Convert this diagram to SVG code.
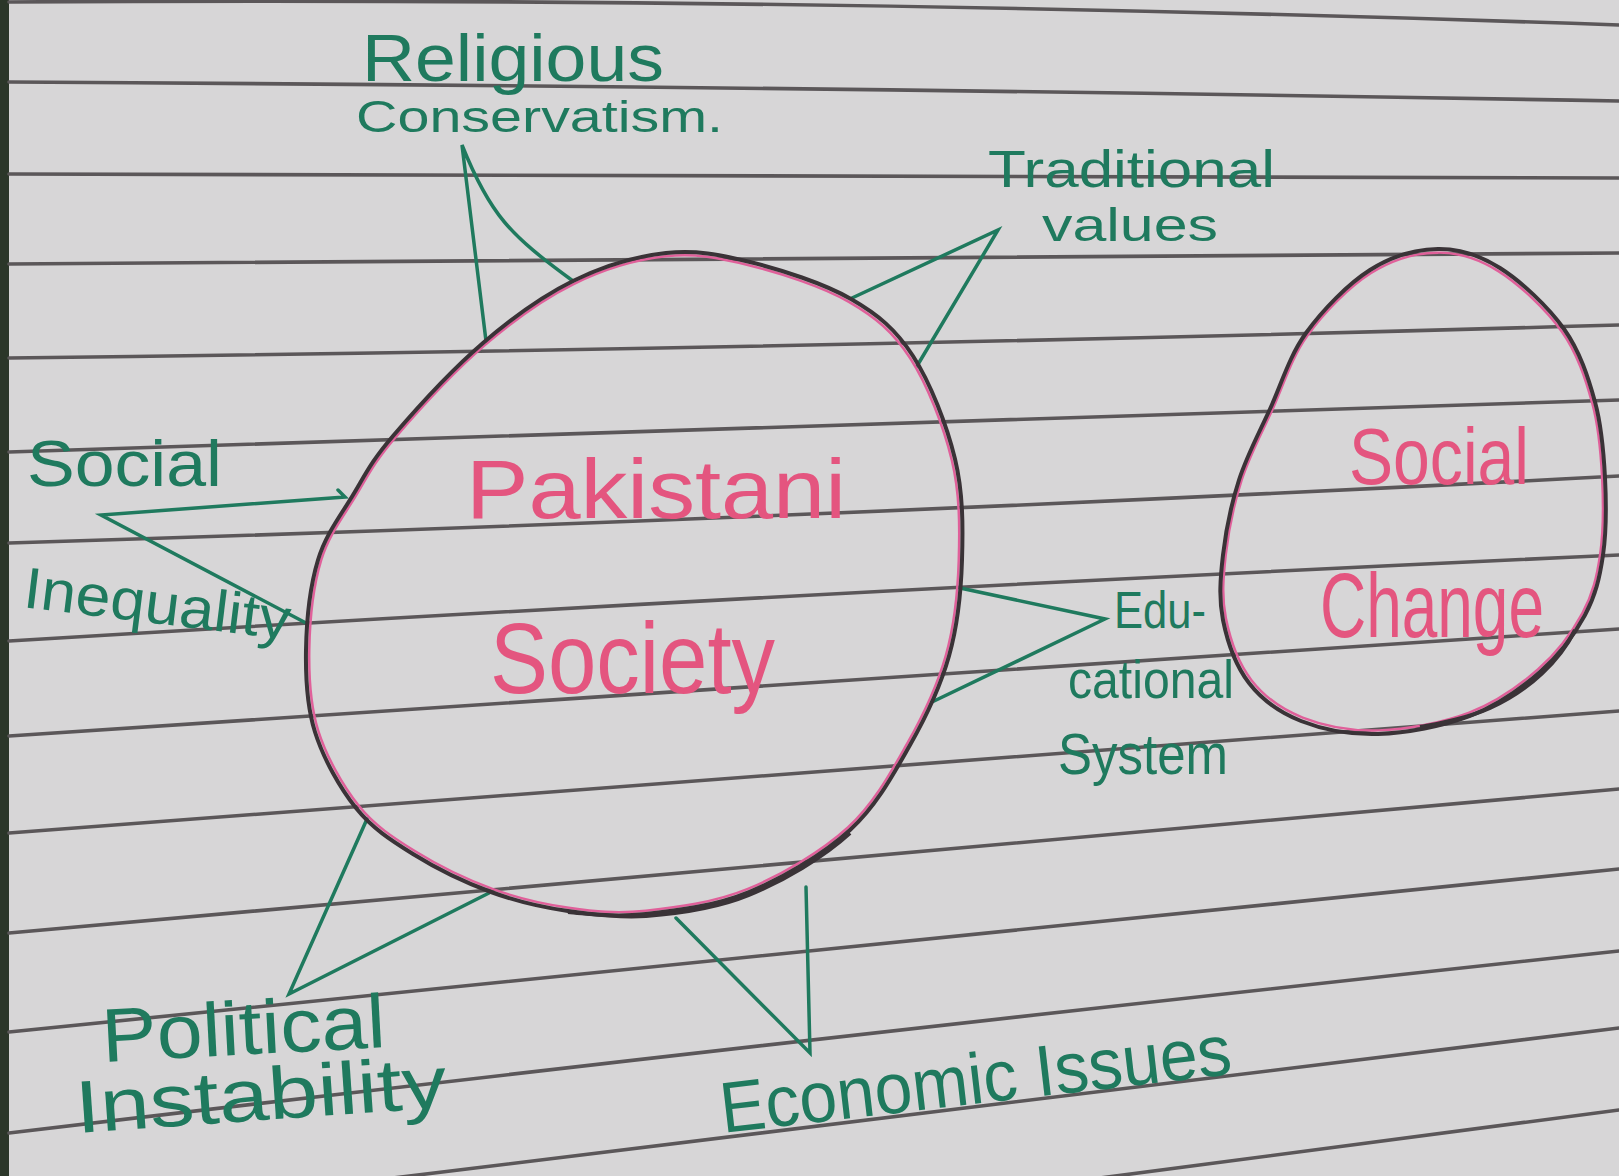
<svg xmlns="http://www.w3.org/2000/svg" width="1619" height="1176" viewBox="0 0 1619 1176">
  <defs>
    <style>
      .rule { fill: none; stroke: #5b5759; stroke-width: 3.6; stroke-linecap: round; }
      .outline { fill: none; stroke: #3a3337; stroke-width: 4; stroke-linejoin: round; }
      .tint { fill: none; stroke: #e0609a; stroke-width: 2.5; }
      .spike { fill: none; stroke: #1f7a5e; stroke-width: 3.5; stroke-linejoin: miter; stroke-linecap: round; }
      .pink { font-family: "Liberation Sans", "DejaVu Sans", sans-serif; fill: #e4557f; }
      .green { font-family: "Liberation Sans", "DejaVu Sans", sans-serif; fill: #1f7a5e; }
    </style>
  </defs>

  <!-- paper -->
  <rect x="0" y="0" width="1619" height="1176" fill="#d7d6d7"/>
  <rect x="0" y="0" width="9" height="1176" fill="#2b3629"/>
  <g id="ruling">
    <path class="rule" d="M9,2 Q810.5,-3.5 1619,25"/>
    <path class="rule" d="M9,82 Q810,86.5 1619,101"/>
    <path class="rule" d="M9,174 Q810,174 1619,178"/>
    <path class="rule" d="M9,264 Q810,259.5 1619,253"/>
    <path class="rule" d="M9,358 Q810,348.5 1619,325"/>
    <path class="rule" d="M9,452 Q810,428 1619,400"/>
    <path class="rule" d="M9,543 Q810,518.5 1619,476"/>
    <path class="rule" d="M9,641 Q810,592 1619,555"/>
    <path class="rule" d="M9,736 Q810,685.5 1619,629"/>
    <path class="rule" d="M9,833 Q810,772 1619,711"/>
    <path class="rule" d="M9,933 Q810,859 1619,789"/>
    <path class="rule" d="M9,1032 Q810,949.5 1619,869"/>
    <path class="rule" d="M9,1133 Q810,1038 1619,951"/>
    <path class="rule" d="M9,1225 Q810,1127.5 1619,1028"/>
    <path class="rule" d="M1100,1178 L1619,1110"/>
  </g>

  <!-- connectors (spikes) -->
  <g id="connectors">
    <path id="c-religious" class="spike" d="M486,341 L462,145 C490,215 510,235 573,281"/>
    <path id="c-traditional" class="spike" d="M852,298 L998,230 L917,366"/>
    <path id="c-inequality" class="spike" d="M338,490 L345,497 L101,515 L306,623"/>
    <path id="c-educational" class="spike" d="M960,588 L1105,619 L932,702"/>
    <path id="c-economic" class="spike" d="M676,918 L810,1053 L806,887"/>
    <path id="c-political" class="spike" d="M367,819 L289,994 L489,893"/>
  </g>

  <!-- Pakistani Society -->
  <g id="pakistani-society">
    <path class="tint" transform="translate(636 583) scale(0.99) translate(-636 -583)" d="M666,253 C695.5,249.8 719.2,254.3 750,262 C780.8,269.7 823.8,283.3 851,299 C878.2,314.7 895.7,329.3 913,356 C930.3,382.7 946.8,425 955,459 C963.2,493 963,527.2 962,560 C961,592.8 957.7,625.2 949,656 C940.3,686.8 926.5,716 910,745 C893.5,774 876.8,805.5 850,830 C823.2,854.5 783,878 749,892 C715,906 676.2,910.8 646,914 C615.8,917.2 593.8,914.7 568,911 C542.2,907.3 516.8,901.5 491,892 C465.2,882.5 435.5,868 413,854 C390.5,840 372.3,828.3 356,808 C339.7,787.7 323.3,758.3 315,732 C306.7,705.7 305.5,678.7 306,650 C306.5,621.3 310.2,585.8 318,560 C325.8,534.2 340.5,515.7 353,495 C365.5,474.3 371.3,461.3 393,436 C414.7,410.7 453,368.8 483,343 C513,317.2 542.5,296 573,281 C603.5,266 636.5,256.2 666,253 Z"/>
    <path class="outline" d="M666,253 C695.5,249.8 719.2,254.3 750,262 C780.8,269.7 823.8,283.3 851,299 C878.2,314.7 895.7,329.3 913,356 C930.3,382.7 946.8,425 955,459 C963.2,493 963,527.2 962,560 C961,592.8 957.7,625.2 949,656 C940.3,686.8 926.5,716 910,745 C893.5,774 876.8,805.5 850,830 C823.2,854.5 783,878 749,892 C715,906 676.2,910.8 646,914 C615.8,917.2 593.8,914.7 568,911 C542.2,907.3 516.8,901.5 491,892 C465.2,882.5 435.5,868 413,854 C390.5,840 372.3,828.3 356,808 C339.7,787.7 323.3,758.3 315,732 C306.7,705.7 305.5,678.7 306,650 C306.5,621.3 310.2,585.8 318,560 C325.8,534.2 340.5,515.7 353,495 C365.5,474.3 371.3,461.3 393,436 C414.7,410.7 453,368.8 483,343 C513,317.2 542.5,296 573,281 C603.5,266 636.5,256.2 666,253 Z"/>
    <path class="outline" stroke-width="6" d="M850,833 C823.2,857.5 783,881 749,895 C715,909 676.2,913.8 646,916 C615.8,918 590,914 568,912"/>
    <text class="pink" x="466" y="518" font-size="84" textLength="380" lengthAdjust="spacingAndGlyphs">Pakistani</text>
    <text class="pink" x="490" y="693" font-size="100" textLength="285" lengthAdjust="spacingAndGlyphs">Society</text>
  </g>

  <!-- Social Change -->
  <g id="social-change">
    <path class="tint" transform="translate(1414 492) scale(0.985) translate(-1414 -492)" d="M1438,249 C1459.7,248.7 1479,254.7 1500,268 C1521,281.3 1548.2,306.7 1564,329 C1579.8,351.3 1588.2,377.2 1595,402 C1601.8,426.8 1603.7,452.5 1605,478 C1606.3,503.5 1606.3,532.2 1603,555 C1599.7,577.8 1595.5,595.5 1585,615 C1574.5,634.5 1559.2,655.2 1540,672 C1520.8,688.8 1497,705.7 1470,716 C1443,726.3 1406.2,733.2 1378,734 C1349.8,734.8 1322.5,729.5 1301,721 C1279.5,712.5 1262,699.8 1249,683 C1236,666.2 1227.3,641.3 1223,620 C1218.7,598.7 1220.3,578.3 1223,555 C1225.7,531.7 1231.2,504.3 1239,480 C1246.8,455.7 1258.8,433.5 1270,409 C1281.2,384.5 1289.3,356.2 1306,333 C1322.7,309.8 1348,284 1370,270 C1392,256 1416.3,249.3 1438,249 Z"/>
    <path class="outline" d="M1438,249 C1459.7,248.7 1479,254.7 1500,268 C1521,281.3 1548.2,306.7 1564,329 C1579.8,351.3 1588.2,377.2 1595,402 C1601.8,426.8 1603.7,452.5 1605,478 C1606.3,503.5 1606.3,532.2 1603,555 C1599.7,577.8 1595.5,595.5 1585,615 C1574.5,634.5 1559.2,655.2 1540,672 C1520.8,688.8 1497,705.7 1470,716 C1443,726.3 1406.2,733.2 1378,734 C1349.8,734.8 1322.5,729.5 1301,721 C1279.5,712.5 1262,699.8 1249,683 C1236,666.2 1227.3,641.3 1223,620 C1218.7,598.7 1220.3,578.3 1223,555 C1225.7,531.7 1231.2,504.3 1239,480 C1246.8,455.7 1258.8,433.5 1270,409 C1281.2,384.5 1289.3,356.2 1306,333 C1322.7,309.8 1348,284 1370,270 C1392,256 1416.3,249.3 1438,249 Z"/>
    <path class="outline" stroke-width="7" d="M1575,630 C1560,660 1530,690 1490,708 C1470,717 1440,724 1420,727"/>
    <text class="pink" x="1349" y="484" font-size="80" textLength="180" lengthAdjust="spacingAndGlyphs">Social</text>
    <text class="pink" x="1320" y="637" font-size="90" textLength="224" lengthAdjust="spacingAndGlyphs">Change</text>
  </g>

  <!-- factor labels -->
  <g id="religious-conservatism">
    <text class="green" x="362" y="81" font-size="66" textLength="302" lengthAdjust="spacingAndGlyphs">Religious</text>
    <text class="green" x="356" y="132" font-size="44" textLength="367" lengthAdjust="spacingAndGlyphs">Conservatism.</text>
  </g>
  <g id="traditional-values">
    <text class="green" x="988" y="187" font-size="52" textLength="287" lengthAdjust="spacingAndGlyphs">Traditional</text>
    <text class="green" x="1042" y="241" font-size="46" textLength="176" lengthAdjust="spacingAndGlyphs">values</text>
  </g>
  <g id="social-inequality">
    <text class="green" x="27" y="486" font-size="64" textLength="195" lengthAdjust="spacingAndGlyphs">Social</text>
    <text class="green" x="22" y="607" font-size="58" transform="rotate(7 22 607)" textLength="268" lengthAdjust="spacingAndGlyphs">Inequality</text>
  </g>
  <g id="educational-system">
    <text class="green" x="1114" y="628" font-size="52" textLength="92" lengthAdjust="spacingAndGlyphs">Edu-</text>
    <text class="green" x="1068" y="698" font-size="54" textLength="166" lengthAdjust="spacingAndGlyphs">cational</text>
    <text class="green" x="1058" y="774" font-size="58" textLength="170" lengthAdjust="spacingAndGlyphs">System</text>
  </g>
  <g id="economic-issues">
    <text class="green" x="723" y="1133" font-size="72" transform="rotate(-6.6 723 1133)" textLength="514" lengthAdjust="spacingAndGlyphs">Economic  Issues</text>
  </g>
  <g id="political-instability">
    <text class="green" x="103" y="1062" font-size="76" transform="rotate(-3 103 1062)" textLength="284" lengthAdjust="spacingAndGlyphs">Political</text>
    <text class="green" x="77" y="1133" font-size="74" transform="rotate(-4 77 1133)" textLength="372" lengthAdjust="spacingAndGlyphs">Instability</text>
  </g>
</svg>
